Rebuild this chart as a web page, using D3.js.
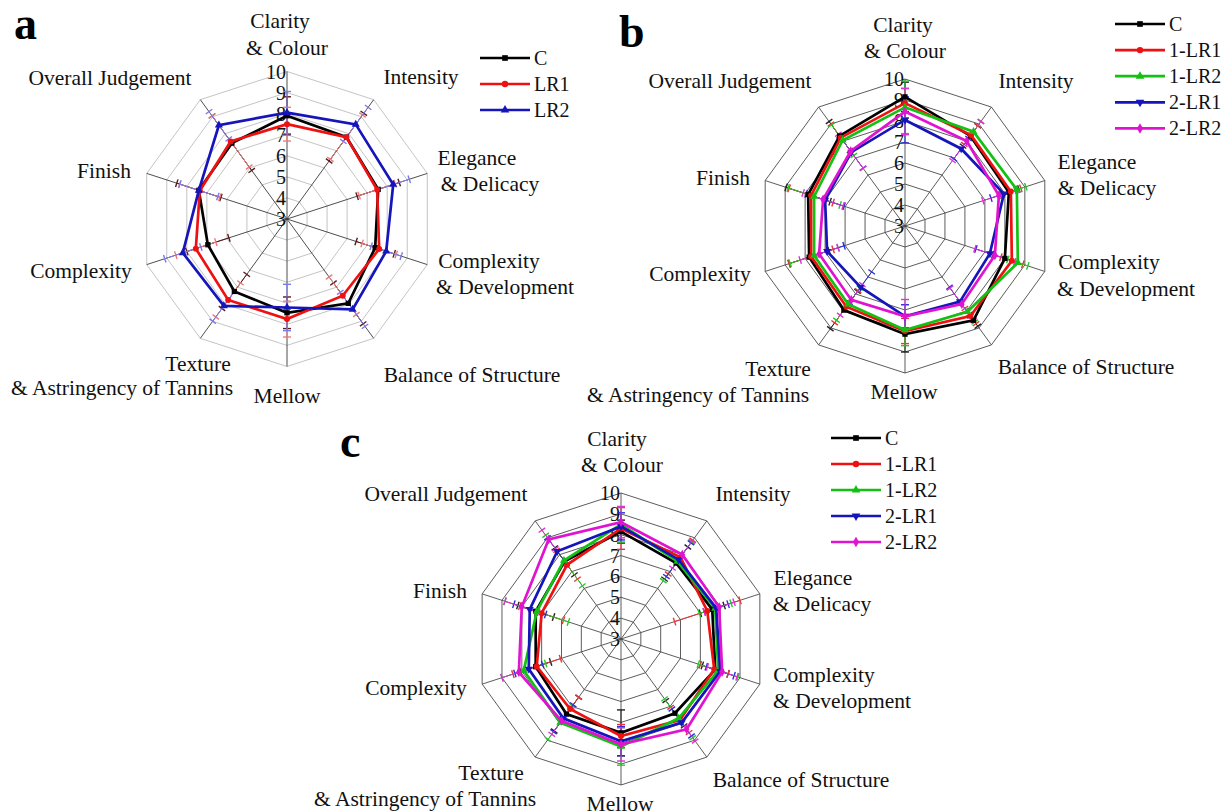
<!DOCTYPE html>
<html>
<head>
<meta charset="utf-8">
<script src="https://cdn.jsdelivr.net/npm/d3@7"></script>
<style>
  body { margin: 0; background: #fff; }
  svg { display: block; }
  text { font-family: "Liberation Serif", "Times New Roman", serif; fill: #111; }
</style>
</head>
<body>
<svg id="chart" width="1225" height="811"></svg>
<script>
// ---- Sensory attributes (radar axes, clockwise from top) ----
const attributes = [
  ["Clarity", "& Colour"],
  ["Intensity"],
  ["Elegance", "& Delicacy"],
  ["Complexity", "& Development"],
  ["Balance of Structure"],
  ["Mellow"],
  ["Texture", "& Astringency of Tannins"],
  ["Complexity"],
  ["Finish"],
  ["Overall Judgement"]
];
const tickValues = [3, 4, 5, 6, 7, 8, 9, 10];

// ---- Panel a: scores and standard deviations ----
const seriesA = ["C", "LR1", "LR2"];
const aC      = [7.90, 7.80, 7.55, 7.40, 7.95, 7.45, 7.25, 6.95, 7.40, 7.45];
const aLR1    = [7.50, 7.80, 7.50, 7.60, 7.50, 7.75, 7.75, 7.55, 7.35, 7.55];
const aLR2    = [8.05, 8.55, 8.30, 7.95, 8.30, 7.20, 8.10, 8.20, 7.40, 8.50];
const aC_sd   = [0.90, 1.40, 1.05, 0.95, 1.20, 0.75, 1.00, 1.05, 1.10, 1.60];
const aLR1_sd = [0.80, 1.30, 0.90, 0.85, 1.10, 0.85, 1.00, 1.00, 1.00, 1.50];
const aLR2_sd = [1.00, 1.00, 0.80, 0.75, 1.00, 1.10, 0.90, 0.90, 0.95, 0.80];

// ---- Panel b ----
const seriesB  = ["C", "1-LR1", "1-LR2", "2-LR1", "2-LR2"];
const bC       = [9.15, 8.30, 8.20, 8.00, 8.55, 8.15, 7.95, 7.80, 7.85, 8.30];
const b1LR1    = [8.85, 8.35, 8.30, 8.35, 8.30, 8.00, 7.75, 7.70, 7.70, 8.20];
const b1LR2    = [8.65, 8.55, 8.60, 8.65, 8.05, 7.95, 7.60, 7.55, 7.55, 8.05];
const b2LR1    = [8.05, 7.55, 7.95, 7.25, 7.45, 7.30, 6.60, 6.90, 7.00, 7.35];
const b2LR2    = [8.45, 8.00, 7.70, 7.50, 7.60, 7.30, 7.35, 7.30, 7.10, 7.40];
const bC_sd    = [0.70, 0.60, 0.50, 0.60, 0.35, 0.85, 1.10, 1.00, 1.10, 0.85];
const b1LR1_sd = [0.70, 0.55, 0.50, 0.55, 0.45, 0.60, 0.95, 1.10, 1.10, 0.80];
const b1LR2_sd = [1.25, 0.60, 0.45, 0.50, 0.60, 0.75, 0.95, 1.20, 1.30, 0.90];
const b2LR1_sd = [1.10, 0.60, 0.65, 0.70, 0.85, 0.55, 0.90, 0.85, 0.95, 0.95];
const b2LR2_sd = [1.10, 1.15, 0.80, 1.00, 0.95, 0.80, 0.90, 0.95, 1.00, 1.00];

// ---- Panel c ----
const seriesC  = ["C", "1-LR1", "1-LR2", "2-LR1", "2-LR2"];
const cC       = [8.15, 7.50, 7.60, 7.75, 7.40, 7.50, 7.45, 7.30, 7.30, 7.60];
const c1LR1    = [8.30, 7.85, 7.35, 7.70, 7.80, 7.65, 7.15, 7.25, 7.00, 7.40];
const c1LR2    = [8.50, 7.60, 7.75, 7.90, 7.70, 8.15, 7.95, 7.90, 7.25, 7.65];
const c2LR1    = [8.40, 7.70, 7.80, 8.00, 7.95, 7.90, 7.70, 7.65, 7.60, 8.20];
const c2LR2    = [8.60, 8.00, 7.95, 8.10, 8.35, 8.05, 7.85, 8.15, 8.00, 8.90];
const cC_sd    = [0.55, 0.95, 0.60, 0.65, 0.75, 1.10, 1.00, 0.75, 0.90, 0.80];
const c1LR1_sd = [1.00, 1.00, 1.65, 0.70, 0.75, 0.55, 0.70, 1.20, 1.10, 0.85];
const c1LR2_sd = [0.85, 1.15, 0.80, 1.00, 1.15, 0.90, 1.00, 1.10, 1.60, 1.50];
const c2LR1_sd = [0.65, 1.00, 0.60, 0.70, 0.80, 0.70, 0.80, 0.70, 0.80, 0.80];
const c2LR2_sd = [0.75, 0.80, 0.75, 0.75, 0.70, 0.80, 0.80, 0.85, 0.85, 0.55];

// ---- Styling per series name ----
const seriesStyle = {
  "C":     { color: "#000000", symbol: d3.symbolSquare,   rot: 0 },
  "LR1":   { color: "#ee1111", symbol: d3.symbolCircle,   rot: 0 },
  "LR2":   { color: "#1515bb", symbol: d3.symbolTriangle, rot: 0 },
  "1-LR1": { color: "#ee1111", symbol: d3.symbolCircle,   rot: 0 },
  "1-LR2": { color: "#13c013", symbol: d3.symbolTriangle, rot: 0 },
  "2-LR1": { color: "#1515bb", symbol: d3.symbolTriangle, rot: 180 },
  "2-LR2": { color: "#e014d0", symbol: d3.symbolDiamond,  rot: 0 }
};

// ---- Panel layout ----
const panels = [
  {
    letter: "a", letterPos: [14, 39],
    cx: 287, cy: 219, R: 147.5,
    ringColor: "#bdbdbd", spokeColor: "#3a3a3a",
    names: seriesA,
    values: [aC, aLR1, aLR2],
    sds: [aC_sd, aLR1_sd, aLR2_sd],
    barColors: ["#5a1c1c", "#f07a7a", "#7a7aee"],
    legend: { x: 480, y: 58, step: 26 },
    labelPos: [
      [[-7, -199], [0, -172]],
      [[134, -143]],
      [[190, -62], [203, -36]],
      [[202, 41], [218, 67]],
      [[185, 155]],
      [[0, 176]],
      [[-89, 144], [-165, 168]],
      [[-206, 51]],
      [[-183, -49]],
      [[-177, -142]]
    ]
  },
  {
    letter: "b", letterPos: [619, 47],
    cx: 905, cy: 226, R: 147,
    ringColor: "#4a4a4a", spokeColor: "#4a4a4a",
    names: seriesB,
    values: [bC, b1LR1, b1LR2, b2LR1, b2LR2],
    sds: [bC_sd, b1LR1_sd, b1LR2_sd, b2LR1_sd, b2LR2_sd],
    barColors: ["#222222", "#ee3333", "#22cc22", "#2a2ae0", "#e030d8"],
    legend: { x: 1115, y: 24, step: 26.1 },
    labelPos: [
      [[-2, -202], [0, -176]],
      [[131, -146]],
      [[192, -65], [202, -39]],
      [[204, 35], [221, 62]],
      [[181, 140]],
      [[-1, 165]],
      [[-127, 142], [-207, 168]],
      [[-205, 47]],
      [[-182, -49]],
      [[-175, -146]]
    ]
  },
  {
    letter: "c", letterPos: [340, 457],
    cx: 621, cy: 639, R: 146,
    ringColor: "#4a4a4a", spokeColor: "#4a4a4a",
    names: seriesC,
    values: [cC, c1LR1, c1LR2, c2LR1, c2LR2],
    sds: [cC_sd, c1LR1_sd, c1LR2_sd, c2LR1_sd, c2LR2_sd],
    barColors: ["#222222", "#ee3333", "#22cc22", "#2a2ae0", "#e030d8"],
    legend: { x: 831, y: 438, step: 26 },
    labelPos: [
      [[-4, -201], [1, -175]],
      [[132, -146]],
      [[192, -62], [201, -36]],
      [[203, 35], [221, 61]],
      [[180, 140]],
      [[-1, 164]],
      [[-130, 133], [-196, 159]],
      [[-205, 48]],
      [[-181, -49]],
      [[-175, -146]]
    ]
  }
];

const svg = d3.select("#chart");
const nAxes = attributes.length;
const angle = i => i * 2 * Math.PI / nAxes;   // clockwise from 12 o'clock
const fontSize = 21.5;
const tickFontSize = 20;
const legendFontSize = 20;

panels.forEach(p => {
  const g = svg.append("g").attr("transform", `translate(${p.cx},${p.cy})`);
  const r = d3.scaleLinear().domain([3, 10]).range([0, p.R]);
  const pt = (i, v) => [r(v) * Math.sin(angle(i)), -r(v) * Math.cos(angle(i))];

  // rings
  const ring = d3.line().curve(d3.curveLinearClosed);
  g.append("g").selectAll("path")
    .data(tickValues.slice(1))
    .join("path")
    .attr("d", v => ring(d3.range(nAxes).map(i => pt(i, v))))
    .attr("fill", "none")
    .attr("stroke", p.ringColor)
    .attr("stroke-width", 0.9);

  // spokes
  g.append("g").selectAll("line")
    .data(d3.range(nAxes))
    .join("line")
    .attr("x1", 0).attr("y1", 0)
    .attr("x2", i => pt(i, 10)[0])
    .attr("y2", i => pt(i, 10)[1])
    .attr("stroke", p.spokeColor)
    .attr("stroke-width", 0.9);

  // radial tick labels along the top axis
  g.append("g").selectAll("text")
    .data(tickValues)
    .join("text")
    .attr("x", -1)
    .attr("y", v => -r(v))
    .attr("dy", "0.35em")
    .attr("text-anchor", "end")
    .attr("font-size", tickFontSize)
    .text(d => d);

  // error bars (along each spoke, with perpendicular caps)
  const barG = g.append("g");
  p.names.forEach((name, s) => {
    p.values[s].forEach((v, i) => {
      const sd = p.sds[s][i];
      const a = angle(i);
      const ux = Math.sin(a), uy = -Math.cos(a);
      const px = Math.cos(a), py = Math.sin(a);
      const lo = r(v - sd), hi = r(v + sd);
      const cap = 4;
      const b = barG.append("g").attr("stroke", p.barColors[s]).attr("stroke-width", 1);
      b.append("line")
        .attr("x1", lo * ux).attr("y1", lo * uy)
        .attr("x2", hi * ux).attr("y2", hi * uy);
      [lo, hi].forEach(rr => {
        b.append("line")
          .attr("x1", rr * ux - cap * px).attr("y1", rr * uy - cap * py)
          .attr("x2", rr * ux + cap * px).attr("y2", rr * uy + cap * py)
          .attr("stroke-width", 1.4);
      });
    });
  });

  // series polygons
  p.names.forEach((name, s) => {
    const st = seriesStyle[name];
    const pts = p.values[s].map((v, i) => pt(i, v));
    g.append("path")
      .attr("d", ring(pts))
      .attr("fill", "none")
      .attr("stroke", st.color)
      .attr("stroke-width", 2.7)
      .attr("stroke-linejoin", "miter");
    g.append("g").selectAll("path")
      .data(pts)
      .join("path")
      .attr("d", d3.symbol().type(st.symbol).size(28))
      .attr("transform", d => `translate(${d[0]},${d[1]}) rotate(${st.rot})`)
      .attr("fill", st.color);
  });

  // attribute labels
  attributes.forEach((lines, i) => {
    lines.forEach((t, k) => {
      const [dx, dy] = p.labelPos[i][k];
      g.append("text")
        .attr("x", dx).attr("y", dy)
        .attr("dy", "0.35em")
        .attr("text-anchor", "middle")
        .attr("font-size", fontSize)
        .text(t);
    });
  });

  // legend
  const lg = svg.append("g");
  p.names.forEach((name, s) => {
    const st = seriesStyle[name];
    const y = p.legend.y + s * p.legend.step;
    lg.append("line")
      .attr("x1", p.legend.x).attr("x2", p.legend.x + 50)
      .attr("y1", y).attr("y2", y)
      .attr("stroke", st.color).attr("stroke-width", 2.7);
    lg.append("path")
      .attr("d", d3.symbol().type(st.symbol).size(32))
      .attr("transform", `translate(${p.legend.x + 25},${y}) rotate(${st.rot})`)
      .attr("fill", st.color);
    lg.append("text")
      .attr("x", p.legend.x + 54).attr("y", y)
      .attr("dy", "0.35em")
      .attr("font-size", legendFontSize)
      .text(name);
  });

  // panel letter
  svg.append("text")
    .attr("x", p.letterPos[0]).attr("y", p.letterPos[1])
    .attr("font-size", 46)
    .attr("font-weight", "bold")
    .style("fill", "#000")
    .text(p.letter);
});
</script>
</body>
</html>
